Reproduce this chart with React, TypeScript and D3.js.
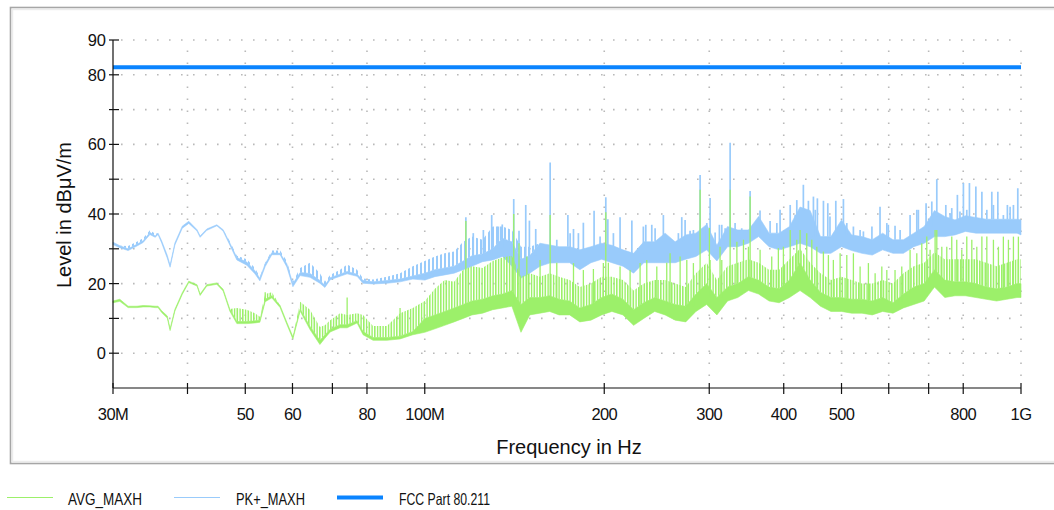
import React from "react";
import * as d3 from "d3";

// Scan bins (MHz) shared by both detector traces
const FREQ_MHZ = [
  30, 30.8, 31.8, 32.9, 33.7, 34.6, 35.3, 35.7, 36.2, 37.0,
  37.4, 38.1, 39.2, 40.2, 41.5, 42, 43.1, 44.8, 45.9, 47.1,
  48.4, 50.3, 51.9, 52.9, 54, 55.4, 57.2, 58.7, 60.1, 61.8,
  64.2, 66.7, 68, 69.4, 72.1, 74.1, 77, 78.8, 81.9, 86.4,
  90.9, 95.5,
  100, 104, 108, 112, 116, 120, 125, 130, 135, 140,
  145, 150, 156, 162, 168, 175, 182, 190, 198, 206,
  215, 224, 233, 243, 253, 263, 274, 285, 297, 309,
  322, 335, 349, 363, 378, 393, 409, 426, 443, 461,
  480, 500, 520, 541, 563, 586, 610, 635, 661, 688,
  716, 745, 775, 807, 840, 874, 910, 947, 985, 1000,
];

// PK+_MAXH: bottom of trace, top of dense band, top of comb
const PK_LOW = [
  31.2, 30.3, 29.5, 30.8, 31.8, 34.1, 33.3, 34.1, 31.7, 27.3,
  24.7, 31.1, 35.9, 37.3, 35.1, 33.3, 35.3, 36.6, 35.1, 31.1,
  26.8, 25.3, 22.8, 20.8, 24.9, 28.3, 28.3, 24.8, 19.1, 22.3,
  21.8, 20.1, 18.9, 21.1, 22.1, 22.8, 22.1, 20.1, 19.9, 20.1,
  20.5, 21.3,
  21, 22, 22.5, 23, 24, 25, 26.3, 26.8, 27.8, 25,
  21.6, 23, 25, 25.9, 26, 26, 24, 26, 27, 26,
  25, 23, 26, 26, 26, 26, 27, 27.8, 29.7, 26.5,
  30.6, 30.6, 31.6, 33.5, 30.6, 29.7, 30.6, 31.6, 30.6, 28.7,
  28.7, 30.6, 29.5, 28.7, 28.2, 29.7, 28.7, 28.7, 30.6, 31.6,
  33.5, 33.5, 34, 35, 34.5, 34.5, 34.5, 34.5, 34.5, 34,
];
const PK_MID = [
  31.9, 30.9, 30, 31.3, 32.3, 34.7, 33.7, 34.5, 32.3, 28.1,
  25.3, 31.7, 36.5, 37.9, 35.5, 33.7, 35.7, 36.9, 35.5, 31.7,
  27.5, 26.2, 23.7, 21.5, 25.7, 28.9, 28.7, 25.7, 20, 23.2,
  22.9, 20.9, 19.5, 21.7, 22.7, 23.5, 22.7, 20.9, 20.5, 20.9,
  21.3, 22.2,
  23, 24, 24.5, 25, 26.5, 28, 28.5, 30, 33, 32,
  27, 28, 31.6, 31.1, 30.6, 30.6, 29.7, 30.6, 31.6, 31,
  29.7, 28.7, 32, 32, 34.5, 32, 34, 34.5, 37, 31,
  36.4, 35.4, 35.4, 39.3, 34.5, 34.5, 36.4, 42, 41, 33.5,
  33.5, 38.3, 34, 33.5, 32.6, 34.5, 32.6, 32.6, 34.5, 36.4,
  41, 39.3, 38.3, 39.5, 39, 38.5, 38.5, 38.5, 38.5, 38.3,
];
const PK_HIGH = [
  31.9, 30.9, 30.8, 32, 33, 35.3, 34.3, 34.5, 32.3, 28.1,
  25.3, 31.7, 36.5, 37.9, 35.5, 33.7, 35.7, 36.9, 35.5, 32.2,
  28, 27, 24.5, 22, 26, 29.5, 29.5, 26.5, 20.5, 24.5,
  26, 23, 20.5, 22.5, 24, 25.5, 24, 21.5, 21.2, 22,
  23, 25,
  26.5, 27.8, 28.7, 29.2, 32, 33.5, 32.6, 36.4, 36.4, 35.4,
  30.6, 30.6, 31.6, 31.1, 30.6, 30.6, 29.7, 30.6, 31.6, 31,
  29.7, 28.7, 32, 32, 34.5, 32, 34, 34.5, 37, 31,
  36.4, 35.4, 35.4, 39.3, 34.5, 34.5, 36.4, 42, 41, 33.5,
  33.5, 38.3, 34, 33.5, 32.6, 34.5, 32.6, 32.6, 34.5, 36.4,
  41, 39.3, 38.3, 39.5, 39, 38.5, 38.5, 38.5, 38.5, 38.3,
];

// AVG_MAXH: bottom of trace, top of dense band, top of comb
const AVG_LOW = [
  14.5, 14.9, 13.1, 13.1, 13.3, 13.3, 13.1, 13.1, 11.7, 10.1,
  6.5, 12.1, 16.9, 20.3, 19.3, 16.6, 19.3, 19.8, 17.9, 12.1,
  8.5, 8.5, 8.7, 8.9, 14.8, 15.9, 13.1, 8.3, 4.1, 12.1,
  6.8, 2.5, 4.3, 6.1, 7.3, 7.3, 8.7, 5.3, 3.7, 3.7,
  4.1, 5.3,
  6, 7, 8, 9, 10, 11, 11.5, 12.5, 13, 13.5,
  6, 11, 11.5, 12, 11, 11, 9, 9.5, 11, 12,
  11, 8, 10, 12, 11, 9.5, 9, 12, 14, 11,
  15, 16, 18, 17, 15, 14.5, 16, 18, 16, 13.5,
  12, 12, 11.5, 11.5, 11, 12, 11.5, 13, 14, 15,
  19, 16, 16.5, 16.5, 16, 15.5, 15, 15.5, 16, 16,
];
const AVG_MID = [
  15, 15.5, 13.5, 13.5, 13.7, 13.6, 13.5, 13.5, 12.2, 10.7,
  7, 12.6, 17.4, 20.7, 19.7, 17, 19.7, 20.2, 18.4, 12.7,
  9.1, 9.1, 9.3, 9.5, 15.5, 16.5, 13.7, 8.9, 4.7, 12.7,
  7.7, 3.7, 5.2, 6.9, 8.2, 8.2, 9.3, 6.2, 4.5, 4.5,
  4.9, 6.2,
  10, 11, 12, 13, 14, 15, 15.5, 16.5, 17, 18,
  14, 16, 16, 16.5, 15.5, 15, 13, 14, 16, 17,
  15.5, 12.5, 14.5, 16, 15, 14, 13.5, 17, 20, 16,
  19, 20, 22, 21, 19, 18.5, 21, 26, 21, 17.5,
  16, 16, 15.5, 15.5, 15, 16, 14.5, 17, 19, 20,
  24, 21, 20.5, 20.5, 20, 19, 18.5, 19, 20, 20,
];
const AVG_HIGH = [
  15, 15.5, 13.5, 13.5, 13.7, 13.6, 13.5, 13.5, 12.2, 10.7,
  7, 12.6, 17.4, 20.7, 19.7, 17, 19.7, 20.2, 18.4, 12.7,
  13, 12.5, 11.5, 10.5, 17, 17.5, 13.7, 8.9, 4.7, 14.8,
  12.5, 7.5, 8, 9.5, 11.5, 11, 11.5, 11, 7.8, 7.8,
  11.5, 13,
  15, 18.5, 21, 20.5, 24, 25, 24.5, 26.5, 27.5, 28,
  22, 23, 22, 23, 22, 21, 19, 20, 22, 22,
  21, 18, 20, 21, 21, 20, 19, 23, 26, 21,
  25, 26, 27, 26, 24, 24, 27, 30, 26, 23,
  21, 22, 21, 20, 20, 21, 20, 23, 25, 26,
  29, 27, 27, 27, 27, 26, 25, 26, 27, 27,
];

// Narrow emissions standing above the traces
const PK_SPIKE_MHZ = [
  117.2, 120.6, 125.4, 129.5, 132.9, 134.9, 141.0, 143.9, 147.7, 149.8,
  153.5, 162.3, 166.5, 173.8, 175.3, 177.6, 181, 184.5, 192.3, 196.8,
  201.2, 202.8, 207.2, 212.6, 222.5, 232.6, 234.8, 240.3, 243.4, 251.3,
  266.3, 269.8, 273.3, 278.6, 282.2, 289.6, 297.2, 301, 306.9, 312,
  314.9, 319, 325.2, 331.5, 337, 340.1, 346.8, 351.3, 365, 379.5,
  389.5, 394.4, 410.1, 418.1, 420.7, 431.5, 440, 448.6, 451.8, 455.5,
  466.3, 474.2, 478.2, 489.1, 503.7, 510.3, 523.5, 537.2, 544.1, 562.3,
  580.2, 595.6, 599.1, 614.8, 627, 651.6, 668.7, 672.8, 693.1, 708.6,
  722.4, 748, 760.5, 765.4, 782.2, 790, 800.6, 811.1, 819.4, 840,
  859.8, 876.4, 893.4, 899, 914.4, 934.2, 948.8, 958.8, 971.2, 987.7,
];
const PK_SPIKE_DB = [
  39.1, 34.5, 35.4, 39.7, 36.4, 37, 44.3, 35.2, 42.6, 38.1,
  35.7, 54.8, 32.6, 39.7, 34.5, 35.7, 34.5, 37.5, 40.9, 33.5,
  44.8, 38.5, 34.5, 39.1, 38.1, 36.4, 36.9, 36.9, 35.9, 39.7,
  34.5, 39.1, 38.3, 35.2, 35.4, 51.2, 37.4, 44.6, 34.7, 36.9,
  36.9, 35.9, 60.5, 37.4, 35.4, 35.9, 35.4, 46.6, 41, 38,
  37.4, 41.2, 42.6, 39.7, 44, 48.4, 43.8, 45, 41.2, 44.5,
  43.8, 43.1, 39.3, 43.8, 44.3, 37.4, 36.4, 35.4, 35, 36.4,
  42.1, 37.4, 36.9, 36.6, 35.4, 39.7, 41.2, 41.2, 43.1, 43.6,
  50, 42.6, 40.2, 41.7, 45.5, 40.7, 48.9, 41.2, 48.9, 47.9,
  46.4, 41.2, 46.4, 42.6, 46.4, 39.7, 42.6, 42.1, 42.6, 47.4,
];
const AVG_SPIKE_MHZ = [
  54, 74.1, 90.9, 117.2, 141, 143.9, 148.3, 156.1, 162.3, 166.5,
  177.6, 184.5, 191.8, 199.3, 201.2, 203.2, 212.6, 221, 229.7, 235.7,
  245, 254.6, 257.9, 268.1, 275.1, 282.2, 289.6, 300.2, 301, 312.8,
  314.9, 325.2, 333.8, 342.4, 349, 351.3, 365.1, 381.9, 391.8, 399.5,
  410.1, 420.7, 426.1, 437.2, 445.8, 454.5, 466.2, 475.3, 484.5, 497.3,
  510.3, 523.5, 537.2, 554.7, 569.3, 584.2, 595.6, 614.8, 631, 651.6,
  668.7, 681.7, 695, 703.9, 717.7, 722.4, 736.5, 750.8, 765.4, 780.3,
  795.6, 811.1, 827, 843.1, 859.8, 876.4, 899, 916.5, 934.2, 952.6,
  971.2, 990,
];
const AVG_SPIKE_DB = [
  17.5, 16, 13, 38, 40, 31.6, 27.8, 26.8, 39.7, 26,
  25.9, 23.9, 24.2, 25.9, 40.5, 26, 24.9, 23.9, 25.9, 26.8,
  24.9, 26, 28.7, 27.8, 26.8, 25.9, 47, 36, 26.8, 30.6,
  26.8, 47, 32, 32.6, 30.6, 45, 29.7, 27.8, 30.2, 30.6,
  35.4, 32.6, 35.4, 34.5, 32.6, 30.6, 29.2, 28.2, 26.8, 28.7,
  28.2, 28.7, 24.9, 25.9, 23, 24.9, 23.9, 23.9, 24.9, 29.7,
  28.7, 31.6, 33.5, 29.7, 35.4, 35.4, 30.6, 30.6, 33.5, 32.6,
  29.7, 33.5, 32.6, 30.6, 33.5, 33.5, 32.6, 30.6, 33.5, 32.6,
  33.5, 33.5,
];

const LIMIT_DB = 82.2;

const Y_MAJOR = [0, 20, 40, 60, 80, 90];
const Y_MINOR = [10, 30, 50, 70];
const Y_GRID = [0, 10, 20, 30, 40, 50, 60, 70, 80, 90];
const X_TICKS_MHZ = [30, 40, 50, 60, 70, 80, 100, 200, 300, 400, 500, 600, 700, 800, 1000];
const X_LABELS: Record<number, string> = {
  30: "30M", 50: "50", 60: "60", 80: "80", 100: "100M",
  200: "200", 300: "300", 400: "400", 500: "500", 800: "800", 1000: "1G",
};

const AVG_COLOR = "#9cf06a";
const PK_COLOR = "#99cbfb";
const LIMIT_COLOR = "#0a84ff";
const FONT = "'Liberation Sans', Arial, sans-serif";

type Bin = { f: number; lo: number; mid: number; hi: number };

export default function App() {
  const W = 1054;
  const H = 510;
  const x = d3.scaleLog().domain([30, 1000]).range([113, 1021]);
  const y = d3.scaleLinear().domain([-10, 90]).range([388, 40]);

  const makeBins = (lo: number[], mid: number[], hi: number[]): Bin[] =>
    FREQ_MHZ.map((f, i) => ({ f, lo: lo[i], mid: mid[i], hi: hi[i] }));

  const pkBins = makeBins(PK_LOW, PK_MID, PK_HIGH);
  const avgBins = makeBins(AVG_LOW, AVG_MID, AVG_HIGH);

  const solid = d3
    .area<Bin>()
    .x((d) => x(d.f))
    .y0((d) => y(d.lo))
    .y1((d) => y(d.mid))
    .curve(d3.curveLinear);
  const comb = d3
    .area<Bin>()
    .x((d) => x(d.f))
    .y0((d) => y(d.mid))
    .y1((d) => y(d.hi))
    .curve(d3.curveLinear);

  const bis = d3.bisector((d: Bin) => d.f).right;
  const spikeBase = (bins: Bin[], f: number) => {
    const i = Math.max(0, Math.min(bins.length - 2, bis(bins, f) - 1));
    return Math.min(bins[i].mid, bins[i + 1].mid);
  };

  const [x0, x1] = x.range();
  const [yb, yt] = y.range();

  const renderTrace = (bins: Bin[], color: string, hatch: string, sMhz: number[], sDb: number[], sw: number) => (
    <g>
      <path d={solid(bins) || ""} fill={color} stroke={color} strokeWidth={0.6} />
      <path d={comb(bins) || ""} fill={`url(#${hatch})`} />
      {sMhz.map((f, i) => (
        <line
          key={i}
          x1={x(f)}
          x2={x(f)}
          y1={y(spikeBase(bins, f))}
          y2={y(sDb[i])}
          stroke={color}
          strokeWidth={sw}
        />
      ))}
    </g>
  );

  return (
    <svg
      width={W}
      height={H}
      style={{ position: "absolute", left: 0, top: 0, background: "#fff" }}
      fontFamily={FONT}
    >
      <defs>
        <pattern id="pkHatch" width={4} height={20} patternUnits="userSpaceOnUse">
          <rect x={0} y={0} width={2} height={20} fill={PK_COLOR} />
        </pattern>
        <pattern id="avgHatch" width={11} height={20} patternUnits="userSpaceOnUse">
          <rect x={0} y={0} width={1.6} height={20} fill={AVG_COLOR} />
          <rect x={2.9} y={0} width={1.4} height={20} fill={AVG_COLOR} />
          <rect x={5.5} y={0} width={1.6} height={20} fill={AVG_COLOR} />
          <rect x={8.4} y={0} width={1.4} height={20} fill={AVG_COLOR} />
        </pattern>
      </defs>

      {/* frame */}
      <rect x={10.5} y={7.5} width={1060} height={456} fill="none" stroke="#a6a6a6" strokeWidth={1.6} />
      <rect x={12.5} y={9.5} width={1060} height={452} fill="none" stroke="#ececec" strokeWidth={1.4} />

      {/* dotted grid */}
      <g stroke="#b9b9b9" strokeWidth={1.6} strokeDasharray="1.6 10.4">
        {Y_GRID.map((v) => (
          <line key={`h${v}`} x1={x0 + 8} x2={x1} y1={y(v)} y2={y(v)} />
        ))}
        {X_TICKS_MHZ.filter((f) => f > 30).map((f) => (
          <line key={`v${f}`} x1={x(f)} x2={x(f)} y1={yb - 12} y2={yt} />
        ))}
      </g>

      {/* traces */}
      {renderTrace(pkBins, PK_COLOR, "pkHatch", PK_SPIKE_MHZ, PK_SPIKE_DB, 1.7)}
      {renderTrace(avgBins, AVG_COLOR, "avgHatch", AVG_SPIKE_MHZ, AVG_SPIKE_DB, 1.3)}

      {/* limit line */}
      <line x1={x0} x2={x1} y1={y(LIMIT_DB)} y2={y(LIMIT_DB)} stroke={LIMIT_COLOR} strokeWidth={4} />

      {/* axes */}
      <g stroke="#111" strokeWidth={1.2}>
        <line x1={x0} x2={x0} y1={yt} y2={yb} />
        <line x1={x0} x2={x1} y1={yb} y2={yb} />
        {[...Y_MAJOR, ...Y_MINOR].map((v) => (
          <line key={`yt${v}`} x1={x0 - 4} x2={x0 + 6} y1={y(v)} y2={y(v)} />
        ))}
        {X_TICKS_MHZ.map((f) => (
          <line key={`xt${f}`} x1={x(f)} x2={x(f)} y1={yb - 5} y2={yb + 6} />
        ))}
      </g>
      <g fontSize={16.5} fill="#111">
        {Y_MAJOR.map((v) => (
          <text key={`yl${v}`} x={x0 - 7} y={y(v) + 6} textAnchor="end">
            {v}
          </text>
        ))}
        {X_TICKS_MHZ.filter((f) => X_LABELS[f]).map((f) => (
          <text key={`xl${f}`} x={x(f)} y={419.5} textAnchor="middle" letterSpacing={-0.6}>
            {X_LABELS[f]}
          </text>
        ))}
      </g>
      <text
        transform={`translate(71,215) rotate(-90)`}
        textAnchor="middle"
        fontSize={20}
        fill="#111"
      >
        Level in dBμV/m
      </text>
      <text x={569} y={454} textAnchor="middle" fontSize={20} fill="#111">
        Frequency in Hz
      </text>

      {/* legend */}
      <g fontSize={16.5} fill="#111">
        <line x1={7} x2={53} y1={497.5} y2={497.5} stroke={AVG_COLOR} strokeWidth={1.2} />
        <text x={68} y={505} textLength={74} lengthAdjust="spacingAndGlyphs">AVG_MAXH</text>
        <line x1={174} x2={220} y1={497.5} y2={497.5} stroke={PK_COLOR} strokeWidth={1.2} />
        <text x={236} y={505} textLength={69} lengthAdjust="spacingAndGlyphs">PK+_MAXH</text>
        <line x1={337} x2={383} y1={497.5} y2={497.5} stroke={LIMIT_COLOR} strokeWidth={4} />
        <text x={399} y={505} textLength={91} lengthAdjust="spacingAndGlyphs">FCC Part 80.211</text>
      </g>
    </svg>
  );
}
